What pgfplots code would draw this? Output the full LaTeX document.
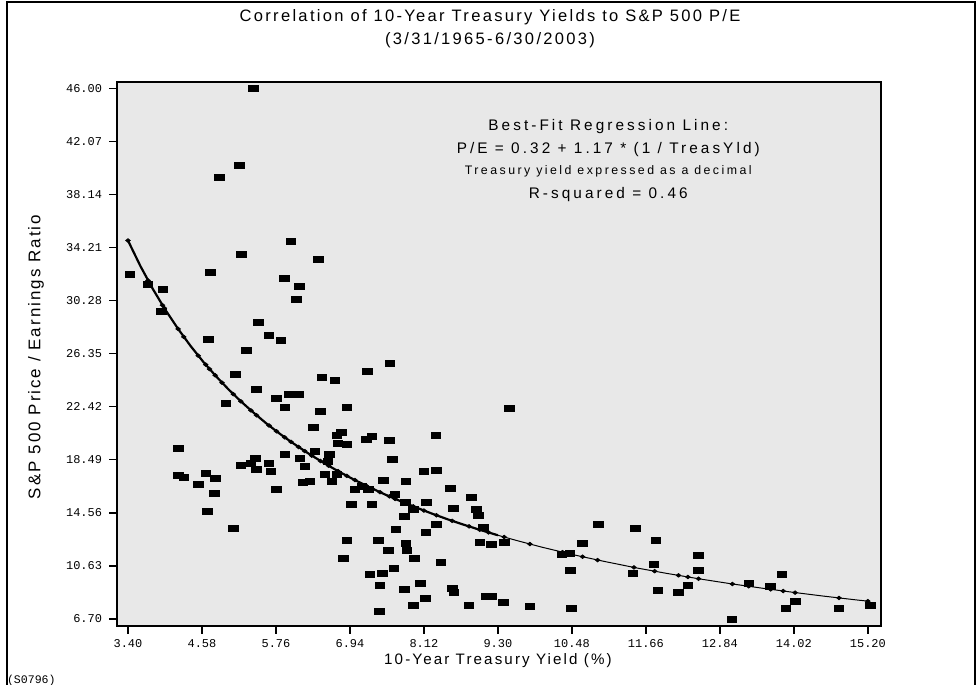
\documentclass[border=0pt]{standalone}
\usepackage{fontspec}
\setmainfont{Liberation Sans}
\newfontfamily\tickfont{Liberation Mono}
\newfontfamily\widefont[LetterSpace=14]{Liberation Sans}
\newfontfamily\annfont[LetterSpace=20]{Liberation Sans}
\usepackage{pgfplots}
\pgfplotsset{compat=1.18}
\usepackage{pgfplotstable}

\pgfplotstableread{
x y
5.40 45.96
5.18 40.3
4.86 39.4
6.00 34.7
5.21 33.7
6.44 33.3
3.43 32.2
4.71 32.4
3.72 31.5
3.96 31.1
5.89 31.9
6.13 31.3
6.09 30.4
3.93 29.5
5.48 28.7
5.65 27.7
5.84 27.3
4.68 27.4
5.29 26.6
7.58 25.6
7.22 25.0
5.11 24.8
6.49 24.6
6.70 24.4
5.45 23.7
5.77 23.05
5.97 23.3
6.12 23.3
4.96 22.7
5.90 22.4
6.47 22.1
6.89 22.4
9.48 22.3
6.36 20.9
6.80 20.5
6.73 20.3
7.20 20.0
7.29 20.2
7.57 19.9
8.31 20.3
6.75 19.7
6.89 19.6
4.20 19.3
5.90 18.9
6.14 18.6
6.38 19.1
6.61 18.9
6.59 18.4
7.62 18.5
6.22 18.0
5.20 18.1
5.36 18.2
5.43 18.6
5.45 17.8
5.65 18.2
5.68 17.6
4.20 17.3
4.29 17.2
4.64 17.5
4.79 17.1
4.52 16.7
4.78 16.0
5.77 16.3
6.19 16.8
6.30 16.9
6.54 17.4
6.73 17.4
6.65 16.9
8.12 17.6
8.32 17.7
7.47 17.0
7.83 16.9
7.02 16.3
7.13 16.5
7.23 16.3
8.54 16.4
8.88 15.7
6.96 15.2
7.29 15.2
7.66 15.9
7.82 15.3
7.95 14.8
8.16 15.3
8.59 14.9
8.96 14.85
8.99 14.35
7.81 14.3
4.67 14.7
9.07 13.5
8.32 13.7
7.67 13.3
8.15 13.1
5.08 13.4
9.01 12.4
9.20 12.2
9.40 12.35
6.89 12.5
7.39 12.55
7.83 12.3
7.55 11.8
7.85 11.8
6.84 11.2
7.97 11.2
8.39 10.9
7.64 10.45
7.46 10.1
7.26 10.0
8.06 9.3
7.42 9.2
7.81 8.9
8.57 9.0
8.60 8.7
8.14 8.2
7.95 7.7
7.41 7.25
8.84 7.7
9.12 8.35
9.20 8.35
9.39 7.9
9.81 7.6
10.47 7.5
10.65 12.3
10.90 13.7
11.49 13.4
11.82 12.5
10.32 11.5
10.45 11.55
10.46 10.3
11.45 10.1
11.79 10.75
11.85 8.8
12.50 11.4
12.50 10.3
12.18 8.7
12.33 9.2
13.03 6.7
13.30 9.3
13.65 9.1
13.83 10.0
13.89 7.5
14.04 8.0
14.74 7.5
15.24 7.7
}\scatterdata

\pgfplotstableread{
x y
3.40 34.73
3.6 32.82
3.8 31.11
4.0 29.57
4.2 28.18
4.4 26.91
4.6 25.75
4.8 24.70
5.0 23.72
5.2 22.82
5.4 21.99
5.6 21.21
5.8 20.49
6.0 19.82
6.25 19.04
6.5 18.32
6.75 17.65
7.0 17.03
7.25 16.46
7.5 15.92
7.75 15.42
8.0 14.95
8.25 14.50
8.5 14.08
8.75 13.69
9.0 13.32
9.3 12.90
}\fitleft

\pgfplotstableread{
x y
9.3 12.90
9.6 12.51
10.0 12.02
10.5 11.46
11.0 10.96
11.5 10.49
12.0 10.07
12.5 9.68
13.0 9.32
13.5 8.99
14.0 8.68
14.5 8.39
15.0 8.12
15.2 8.02
}\fitright

\pgfplotstableread{
x y
3.40 34.73
3.72 31.77
3.95 29.94
3.98 29.72
4.20 28.18
4.29 27.59
4.52 26.20
4.64 25.54
4.70 25.21
4.79 24.75
4.90 24.20
5.08 23.35
5.20 22.82
5.36 22.15
5.45 21.79
5.65 21.03
5.77 20.60
5.90 20.15
6.00 19.82
6.12 19.44
6.22 19.13
6.33 18.80
6.47 18.40
6.60 18.05
6.75 17.65
6.89 17.30
7.02 16.99
7.20 16.57
7.29 16.37
7.42 16.09
7.57 15.78
7.66 15.59
7.82 15.28
7.95 15.04
8.12 14.73
8.32 14.38
8.57 13.97
8.84 13.56
9.01 13.31
9.15 13.11
9.40 12.77
9.81 12.25
10.33 11.65
10.46 11.51
10.65 11.31
10.89 11.06
11.47 10.52
11.80 10.24
12.18 9.93
12.33 9.81
12.50 9.68
13.04 9.29
13.30 9.12
13.65 8.89
13.85 8.77
14.04 8.65
14.74 8.26
15.20 8.02
}\fitmarks

\begin{document}
\begin{tikzpicture}
\useasboundingbox (0,0) rectangle (489.5bp,342.5bp);
\draw[line width=0.9pt] (3.5bp,-2bp) -- (3.5bp,341.5bp) -- (487.5bp,341.5bp) -- (487.5bp,-2bp);
\node[font=\widefont\fontsize{8.3}{9}\selectfont] at (245bp,334bp) {Correlation of 10-Year Treasury Yields to S\&P 500 P/E};
\node[font=\widefont\fontsize{8.3}{9}\selectfont] at (245bp,322.5bp) {(3/31/1965-6/30/2003)};
\node[font=\widefont\fontsize{7.6}{8}\selectfont] at (249bp,12bp) {10-Year Treasury Yield (\%)};
\node[font=\fontsize{8.5}{9}\selectfont, rotate=90] at (18bp,164bp) {\addfontfeatures{LetterSpace=12}S\&P 500 Price / Earnings Ratio};
\node[font=\tickfont\fontsize{5.8}{6}\selectfont, anchor=west] at (0bp,2bp) {(S0796)};
\begin{axis}[
  at={(58.5bp,29.5bp)}, anchor=south west,
  scale only axis, width=382bp, height=272bp,
  xmin=3.225, xmax=15.41, ymin=6.18, ymax=46.47,
  axis background/.style={fill=black!9},
  axis line style={line width=0.8pt},
  tick align=outside, xtick pos=left, ytick pos=left,
  major tick length=4bp,
  tick style={line width=0.7pt, black},
  xtick={3.40,4.58,5.76,6.94,8.12,9.30,10.48,11.66,12.84,14.02,15.20},
  xticklabels={3.40,4.58,5.76,6.94,8.12,9.30,10.48,11.66,12.84,14.02,15.20},
  ytick={6.70,10.63,14.56,18.49,22.42,26.35,30.28,34.21,38.14,42.07,46.00},
  yticklabels={6.70,10.63,14.56,18.49,22.42,26.35,30.28,34.21,38.14,42.07,46.00},
  /pgf/number format/assume math mode=true,
  tick label style={font=\tickfont\fontsize{6}{6.5}\selectfont},
  xticklabel style={yshift=1bp},
]
\addplot[no marks, line width=1.1pt, black] table {\fitleft};
\addplot[no marks, line width=0.5pt, black] table {\fitright};
\addplot[only marks, mark=diamond*, mark size=1.5bp, mark options={yscale=0.6, fill=black, draw=black}] table {\fitmarks};
\addplot[only marks, mark=square*, mark size=1.5bp, mark options={xscale=1.6, fill=black, draw=black}] table {\scatterdata};
\node[font=\annfont\fontsize{7.7}{8}\selectfont] at (axis cs:11.06,43.15) {Best-Fit Regression Line:};
\node[font=\annfont\fontsize{7.7}{8}\selectfont] at (axis cs:11.06,41.5) {P/E = 0.32 + 1.17 * (1 / TreasYld)};
\node[font=\annfont\fontsize{6.2}{7}\selectfont] at (axis cs:11.06,39.85) {Treasury yield expressed as a decimal};
\node[font=\annfont\fontsize{7.7}{8}\selectfont] at (axis cs:11.06,38.15) {R-squared = 0.46};
\end{axis}
\end{tikzpicture}
\end{document}
